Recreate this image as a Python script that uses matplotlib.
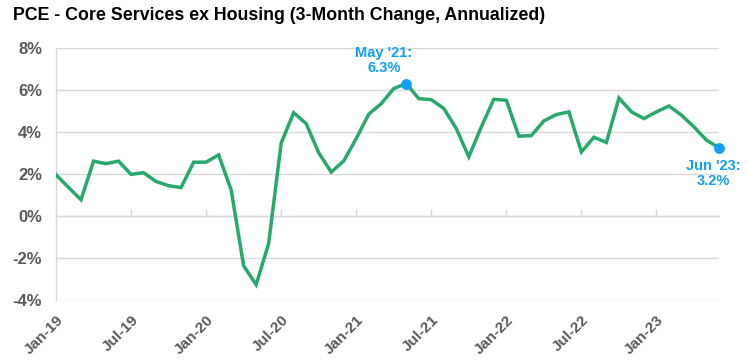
import numpy as np
import pandas as pd
import matplotlib
matplotlib.use("Agg")
import matplotlib.pyplot as plt

plt.rcParams["font.family"] = ["Liberation Sans", "DejaVu Sans"]

# monthly 3-month annualized change, Jan-19 .. Jun-23
months = pd.date_range("2019-01-01", "2023-06-01", freq="MS")
values = [1.97, 1.37, 0.78, 2.62, 2.50, 2.62, 1.99, 2.07, 1.65, 1.45, 1.36, 2.57,
          2.57, 2.92, 1.25, -2.37, -3.27, -1.30, 3.48, 4.93, 4.41, 3.02, 2.10, 2.63,
          3.70, 4.86, 5.36, 6.08, 6.32, 5.60, 5.55, 5.13, 4.17, 2.83, 4.25, 5.57,
          5.52, 3.81, 3.84, 4.54, 4.84, 4.97, 3.06, 3.76, 3.51, 5.63, 4.97, 4.65,
          4.97, 5.25, 4.81, 4.25, 3.62, 3.26]
yticks = [-4, -2, 0, 2, 4, 6, 8]
label_months = pd.date_range("2019-01-01", "2023-01-01", freq="6MS")
peak_label = "May '21:\n6.3%"
last_label = "Jun '23:\n3.2%"

green = "#28A96C"
blue = "#139FFA"
gray = "#595959"
grid = "#D9D9D9"

x = np.arange(len(months))
tick_pos = [months.get_loc(m) for m in label_months]

fig = plt.figure(figsize=(7.49, 3.62), dpi=100)
ax = fig.add_axes([56 / 749, 1 - 300 / 362, (719 - 56) / 749, (300 - 48.3) / 362])

ax.plot(x, values, color=green, lw=2.5, zorder=3, solid_joinstyle="miter")

ax.set_xlim(0, len(months) - 1)
ax.set_ylim(-4, 8)
ax.set_yticks(yticks)
ax.set_yticklabels([f"{v}%" for v in yticks])
ax.yaxis.grid(True, color=grid, lw=1.0)
ax.set_axisbelow(True)
ax.tick_params(axis="y", length=0, pad=10, labelsize=12, labelcolor=gray)
for lbl in ax.get_yticklabels():
    lbl.set_fontweight("bold")

for s in ["top", "right"]:
    ax.spines[s].set_visible(False)
ax.spines["left"].set_color(grid)
ax.spines["left"].set_linewidth(1.0)
ax.spines["bottom"].set_position(("data", 0))
ax.spines["bottom"].set_color(grid)
ax.spines["bottom"].set_linewidth(1.0)

ax.set_xticks(tick_pos)
ax.tick_params(axis="x", direction="in", length=5, color=grid, width=1.0,
               labelbottom=False)

sec = ax.secondary_xaxis("bottom")
sec.set_xticks(tick_pos)
sec.set_xticklabels([m.strftime("%b-%y") for m in label_months], rotation=45,
                    ha="right", rotation_mode="anchor")
sec.tick_params(length=0, pad=9, labelsize=11, labelcolor=gray)
sec.spines["bottom"].set_visible(False)
for lbl in sec.get_xticklabels():
    lbl.set_fontweight("bold")

# highlighted points
ipk = int(np.argmax(values))
ax.plot([x[ipk], x[-1]], [values[ipk], values[-1]], "o", color=blue, ms=6.8,
        zorder=4, clip_on=False)
ax.annotate(peak_label, (x[ipk], values[ipk]), xytext=(-16, 6),
            textcoords="offset points", ha="center", va="bottom",
            color=blue, fontsize=10.5, fontweight="bold", linespacing=1.1)
ax.annotate(last_label, (x[-1], values[-1]), xytext=(-4, -8),
            textcoords="offset points", ha="center", va="top",
            color=blue, fontsize=10.5, fontweight="bold", linespacing=1.1)

fig.text(13 / 749, 1 - 15 / 362,
         "PCE - Core Services ex Housing (3-Month Change, Annualized)",
         ha="left", va="center", fontsize=12.8, fontweight="bold", color="black")

fig.savefig("out.png", dpi=100, facecolor="white")
